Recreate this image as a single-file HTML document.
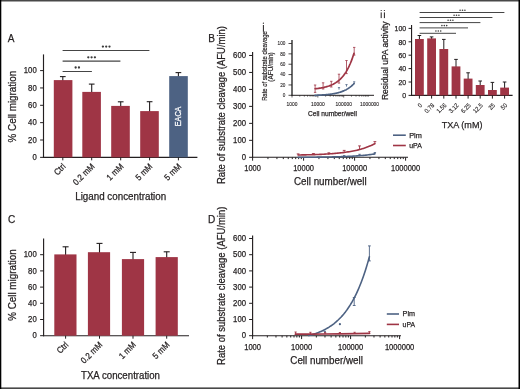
<!DOCTYPE html>
<html><head><meta charset="utf-8"><style>
html,body{margin:0;padding:0;background:#fff;}
svg{display:block;will-change:transform;}
text{font-family:"Liberation Sans",sans-serif;stroke:#231f20;stroke-width:0.25px;}
text.w{stroke:#fff;}
text.s{stroke-width:0.12px;}
text.m{stroke-width:0.2px;}
</style></head><body>
<svg width="520" height="389" viewBox="0 0 520 389">
<rect width="520" height="389" fill="#fff"/>
<text x="7.80" y="42.40" font-size="11.2" text-anchor="start" fill="#231f20" textLength="6.72" lengthAdjust="spacingAndGlyphs" >A</text>
<line x1="43.50" y1="54.40" x2="43.50" y2="157.90" stroke="#231f20" stroke-width="1.15"/>
<line x1="43.00" y1="157.35" x2="197.40" y2="157.35" stroke="#231f20" stroke-width="1.1"/>
<line x1="40.10" y1="157.35" x2="43.50" y2="157.35" stroke="#231f20" stroke-width="1.0"/>
<text x="36.70" y="159.95" font-size="8.4" text-anchor="end" fill="#231f20" textLength="4.3" lengthAdjust="spacingAndGlyphs" >0</text>
<line x1="40.10" y1="140.00" x2="43.50" y2="140.00" stroke="#231f20" stroke-width="1.0"/>
<text x="36.70" y="142.60" font-size="8.4" text-anchor="end" fill="#231f20" textLength="8.6" lengthAdjust="spacingAndGlyphs" >20</text>
<line x1="40.10" y1="122.65" x2="43.50" y2="122.65" stroke="#231f20" stroke-width="1.0"/>
<text x="36.70" y="125.25" font-size="8.4" text-anchor="end" fill="#231f20" textLength="8.6" lengthAdjust="spacingAndGlyphs" >40</text>
<line x1="40.10" y1="105.30" x2="43.50" y2="105.30" stroke="#231f20" stroke-width="1.0"/>
<text x="36.70" y="107.90" font-size="8.4" text-anchor="end" fill="#231f20" textLength="8.6" lengthAdjust="spacingAndGlyphs" >60</text>
<line x1="40.10" y1="87.95" x2="43.50" y2="87.95" stroke="#231f20" stroke-width="1.0"/>
<text x="36.70" y="90.55" font-size="8.4" text-anchor="end" fill="#231f20" textLength="8.6" lengthAdjust="spacingAndGlyphs" >80</text>
<line x1="40.10" y1="70.60" x2="43.50" y2="70.60" stroke="#231f20" stroke-width="1.0"/>
<text x="36.70" y="73.20" font-size="8.4" text-anchor="end" fill="#231f20" textLength="12.89" lengthAdjust="spacingAndGlyphs" >100</text>
<line x1="62.80" y1="81.10" x2="62.80" y2="76.60" stroke="#231f20" stroke-width="1.1"/>
<line x1="59.95" y1="76.60" x2="65.65" y2="76.60" stroke="#231f20" stroke-width="1.1"/>
<rect x="53.80" y="80.10" width="18.60" height="77.25" fill="#9f3545"/>
<line x1="62.80" y1="157.35" x2="62.80" y2="160.35" stroke="#231f20" stroke-width="1.0"/>
<line x1="91.70" y1="92.90" x2="91.70" y2="84.10" stroke="#231f20" stroke-width="1.1"/>
<line x1="88.85" y1="84.10" x2="94.55" y2="84.10" stroke="#231f20" stroke-width="1.1"/>
<rect x="82.30" y="91.90" width="18.60" height="65.45" fill="#9f3545"/>
<line x1="91.70" y1="157.35" x2="91.70" y2="160.35" stroke="#231f20" stroke-width="1.0"/>
<line x1="120.70" y1="106.90" x2="120.70" y2="101.80" stroke="#231f20" stroke-width="1.1"/>
<line x1="117.85" y1="101.80" x2="123.55" y2="101.80" stroke="#231f20" stroke-width="1.1"/>
<rect x="111.20" y="105.90" width="18.60" height="51.45" fill="#9f3545"/>
<line x1="120.70" y1="157.35" x2="120.70" y2="160.35" stroke="#231f20" stroke-width="1.0"/>
<line x1="149.60" y1="112.10" x2="149.60" y2="101.70" stroke="#231f20" stroke-width="1.1"/>
<line x1="146.75" y1="101.70" x2="152.45" y2="101.70" stroke="#231f20" stroke-width="1.1"/>
<rect x="140.20" y="111.10" width="18.60" height="46.25" fill="#9f3545"/>
<line x1="149.60" y1="157.35" x2="149.60" y2="160.35" stroke="#231f20" stroke-width="1.0"/>
<line x1="178.40" y1="77.10" x2="178.40" y2="72.60" stroke="#231f20" stroke-width="1.1"/>
<line x1="175.55" y1="72.60" x2="181.25" y2="72.60" stroke="#231f20" stroke-width="1.1"/>
<rect x="169.20" y="76.10" width="18.60" height="81.25" fill="#4d6283"/>
<line x1="178.40" y1="157.35" x2="178.40" y2="160.35" stroke="#231f20" stroke-width="1.0"/>
<text x="181.20" y="116.40" font-size="8.6" text-anchor="middle" fill="#ffffff" textLength="19.6" lengthAdjust="spacingAndGlyphs" transform="rotate(-90 181.20 116.40)" class="w">EACA</text>
<line x1="62.60" y1="50.50" x2="149.40" y2="50.50" stroke="#454545" stroke-width="1.0"/>
<circle cx="102.90" cy="46.60" r="1.15" fill="#3a3a3a"/>
<circle cx="106.20" cy="46.60" r="1.15" fill="#3a3a3a"/>
<circle cx="109.50" cy="46.60" r="1.15" fill="#3a3a3a"/>
<line x1="62.60" y1="61.10" x2="120.40" y2="61.10" stroke="#454545" stroke-width="1.2"/>
<circle cx="88.30" cy="57.30" r="1.15" fill="#3a3a3a"/>
<circle cx="91.60" cy="57.30" r="1.15" fill="#3a3a3a"/>
<circle cx="94.90" cy="57.30" r="1.15" fill="#3a3a3a"/>
<line x1="62.60" y1="71.50" x2="91.90" y2="71.50" stroke="#454545" stroke-width="1.0"/>
<circle cx="75.65" cy="67.50" r="1.15" fill="#3a3a3a"/>
<circle cx="78.95" cy="67.50" r="1.15" fill="#3a3a3a"/>
<text x="66.20" y="167.00" font-size="8.8" text-anchor="end" fill="#231f20" textLength="12.32" lengthAdjust="spacingAndGlyphs" transform="rotate(-45 66.20 167.00)" >Ctrl</text>
<text x="95.10" y="167.00" font-size="8.8" text-anchor="end" fill="#231f20" textLength="26.41" lengthAdjust="spacingAndGlyphs" transform="rotate(-45 95.10 167.00)" >0.2 mM</text>
<text x="124.10" y="167.00" font-size="8.8" text-anchor="end" fill="#231f20" textLength="19.8" lengthAdjust="spacingAndGlyphs" transform="rotate(-45 124.10 167.00)" >1 mM</text>
<text x="153.00" y="167.00" font-size="8.8" text-anchor="end" fill="#231f20" textLength="19.8" lengthAdjust="spacingAndGlyphs" transform="rotate(-45 153.00 167.00)" >5 mM</text>
<text x="181.80" y="167.00" font-size="8.8" text-anchor="end" fill="#231f20" textLength="19.8" lengthAdjust="spacingAndGlyphs" transform="rotate(-45 181.80 167.00)" >5 mM</text>
<text x="120.70" y="200.30" font-size="10" text-anchor="middle" fill="#231f20" textLength="91.0" lengthAdjust="spacingAndGlyphs" >Ligand concentration</text>
<text x="16.30" y="106.60" font-size="10.4" text-anchor="middle" fill="#231f20" textLength="71.6" lengthAdjust="spacingAndGlyphs" transform="rotate(-90 16.30 106.60)" >% Cell migration</text>
<text x="208.20" y="42.40" font-size="11.2" text-anchor="start" fill="#231f20" textLength="6.72" lengthAdjust="spacingAndGlyphs" >B</text>
<line x1="252.60" y1="52.00" x2="252.60" y2="157.85" stroke="#231f20" stroke-width="1.15"/>
<line x1="252.10" y1="157.30" x2="408.00" y2="157.30" stroke="#231f20" stroke-width="1.1"/>
<line x1="249.10" y1="157.30" x2="252.60" y2="157.30" stroke="#231f20" stroke-width="1.0"/>
<text x="246.00" y="159.90" font-size="8.4" text-anchor="end" fill="#231f20" textLength="4.3" lengthAdjust="spacingAndGlyphs" >0</text>
<line x1="249.10" y1="140.33" x2="252.60" y2="140.33" stroke="#231f20" stroke-width="1.0"/>
<text x="246.00" y="142.93" font-size="8.4" text-anchor="end" fill="#231f20" textLength="12.89" lengthAdjust="spacingAndGlyphs" >100</text>
<line x1="249.10" y1="123.36" x2="252.60" y2="123.36" stroke="#231f20" stroke-width="1.0"/>
<text x="246.00" y="125.96" font-size="8.4" text-anchor="end" fill="#231f20" textLength="12.89" lengthAdjust="spacingAndGlyphs" >200</text>
<line x1="249.10" y1="106.39" x2="252.60" y2="106.39" stroke="#231f20" stroke-width="1.0"/>
<text x="246.00" y="108.99" font-size="8.4" text-anchor="end" fill="#231f20" textLength="12.89" lengthAdjust="spacingAndGlyphs" >300</text>
<line x1="249.10" y1="89.42" x2="252.60" y2="89.42" stroke="#231f20" stroke-width="1.0"/>
<text x="246.00" y="92.02" font-size="8.4" text-anchor="end" fill="#231f20" textLength="12.89" lengthAdjust="spacingAndGlyphs" >400</text>
<line x1="249.10" y1="72.45" x2="252.60" y2="72.45" stroke="#231f20" stroke-width="1.0"/>
<text x="246.00" y="75.05" font-size="8.4" text-anchor="end" fill="#231f20" textLength="12.89" lengthAdjust="spacingAndGlyphs" >500</text>
<line x1="249.10" y1="55.48" x2="252.60" y2="55.48" stroke="#231f20" stroke-width="1.0"/>
<text x="246.00" y="58.08" font-size="8.4" text-anchor="end" fill="#231f20" textLength="12.89" lengthAdjust="spacingAndGlyphs" >600</text>
<line x1="252.60" y1="157.30" x2="252.60" y2="160.70" stroke="#231f20" stroke-width="1.0"/>
<line x1="267.95" y1="157.30" x2="267.95" y2="159.10" stroke="#231f20" stroke-width="1.0"/>
<line x1="276.93" y1="157.30" x2="276.93" y2="159.10" stroke="#231f20" stroke-width="1.0"/>
<line x1="283.31" y1="157.30" x2="283.31" y2="159.10" stroke="#231f20" stroke-width="1.0"/>
<line x1="288.25" y1="157.30" x2="288.25" y2="159.10" stroke="#231f20" stroke-width="1.0"/>
<line x1="292.29" y1="157.30" x2="292.29" y2="159.10" stroke="#231f20" stroke-width="1.0"/>
<line x1="295.70" y1="157.30" x2="295.70" y2="159.10" stroke="#231f20" stroke-width="1.0"/>
<line x1="298.66" y1="157.30" x2="298.66" y2="159.10" stroke="#231f20" stroke-width="1.0"/>
<line x1="301.27" y1="157.30" x2="301.27" y2="159.10" stroke="#231f20" stroke-width="1.0"/>
<line x1="303.60" y1="157.30" x2="303.60" y2="160.70" stroke="#231f20" stroke-width="1.0"/>
<line x1="318.95" y1="157.30" x2="318.95" y2="159.10" stroke="#231f20" stroke-width="1.0"/>
<line x1="327.93" y1="157.30" x2="327.93" y2="159.10" stroke="#231f20" stroke-width="1.0"/>
<line x1="334.31" y1="157.30" x2="334.31" y2="159.10" stroke="#231f20" stroke-width="1.0"/>
<line x1="339.25" y1="157.30" x2="339.25" y2="159.10" stroke="#231f20" stroke-width="1.0"/>
<line x1="343.29" y1="157.30" x2="343.29" y2="159.10" stroke="#231f20" stroke-width="1.0"/>
<line x1="346.70" y1="157.30" x2="346.70" y2="159.10" stroke="#231f20" stroke-width="1.0"/>
<line x1="349.66" y1="157.30" x2="349.66" y2="159.10" stroke="#231f20" stroke-width="1.0"/>
<line x1="352.27" y1="157.30" x2="352.27" y2="159.10" stroke="#231f20" stroke-width="1.0"/>
<line x1="354.60" y1="157.30" x2="354.60" y2="160.70" stroke="#231f20" stroke-width="1.0"/>
<line x1="369.95" y1="157.30" x2="369.95" y2="159.10" stroke="#231f20" stroke-width="1.0"/>
<line x1="378.93" y1="157.30" x2="378.93" y2="159.10" stroke="#231f20" stroke-width="1.0"/>
<line x1="385.31" y1="157.30" x2="385.31" y2="159.10" stroke="#231f20" stroke-width="1.0"/>
<line x1="390.25" y1="157.30" x2="390.25" y2="159.10" stroke="#231f20" stroke-width="1.0"/>
<line x1="394.29" y1="157.30" x2="394.29" y2="159.10" stroke="#231f20" stroke-width="1.0"/>
<line x1="397.70" y1="157.30" x2="397.70" y2="159.10" stroke="#231f20" stroke-width="1.0"/>
<line x1="400.66" y1="157.30" x2="400.66" y2="159.10" stroke="#231f20" stroke-width="1.0"/>
<line x1="403.27" y1="157.30" x2="403.27" y2="159.10" stroke="#231f20" stroke-width="1.0"/>
<line x1="405.60" y1="157.30" x2="405.60" y2="160.70" stroke="#231f20" stroke-width="1.0"/>
<text x="252.60" y="171.20" font-size="8.4" text-anchor="middle" fill="#231f20" textLength="16.63" lengthAdjust="spacingAndGlyphs" >1000</text>
<text x="303.60" y="171.20" font-size="8.4" text-anchor="middle" fill="#231f20" textLength="20.79" lengthAdjust="spacingAndGlyphs" >10000</text>
<text x="354.60" y="171.20" font-size="8.4" text-anchor="middle" fill="#231f20" textLength="24.95" lengthAdjust="spacingAndGlyphs" >100000</text>
<text x="405.60" y="171.20" font-size="8.4" text-anchor="middle" fill="#231f20" textLength="29.11" lengthAdjust="spacingAndGlyphs" >1000000</text>
<text x="330.30" y="185.20" font-size="10" text-anchor="middle" fill="#231f20" textLength="72.6" lengthAdjust="spacingAndGlyphs" >Cell number/well</text>
<text x="225.40" y="105.10" font-size="10.2" text-anchor="middle" fill="#231f20" textLength="158.0" lengthAdjust="spacingAndGlyphs" transform="rotate(-90 225.40 105.10)" >Rate of substrate cleavage (AFU/min)</text>
<path d="M298.13,154.99 L299.41,154.97 L300.69,154.95 L301.97,154.92 L303.25,154.90 L304.53,154.87 L305.81,154.84 L307.09,154.81 L308.37,154.78 L309.65,154.74 L310.93,154.71 L312.21,154.67 L313.48,154.63 L314.76,154.58 L316.04,154.54 L317.32,154.49 L318.60,154.44 L319.88,154.38 L321.16,154.33 L322.44,154.26 L323.72,154.20 L325.00,154.13 L326.28,154.06 L327.56,153.98 L328.84,153.90 L330.12,153.81 L331.40,153.72 L332.68,153.62 L333.95,153.52 L335.23,153.41 L336.51,153.29 L337.79,153.17 L339.07,153.04 L340.35,152.90 L341.63,152.76 L342.91,152.60 L344.19,152.44 L345.47,152.27 L346.75,152.08 L348.03,151.89 L349.31,151.68 L350.59,151.46 L351.87,151.23 L353.15,150.99 L354.42,150.73 L355.70,150.45 L356.98,150.16 L358.26,149.85 L359.54,149.52 L360.82,149.18 L362.10,148.81 L363.38,148.42 L364.66,148.01 L365.94,147.57 L367.22,147.11 L368.50,146.62 L369.78,146.10 L371.06,145.55 L372.34,144.96 L373.62,144.34 L374.89,143.69" stroke="#9f3545" stroke-width="1.6" fill="none" stroke-linecap="round" />
<path d="M298.13,157.30 L299.41,157.30 L300.69,157.30 L301.97,157.30 L303.25,157.29 L304.53,157.28 L305.81,157.27 L307.09,157.26 L308.37,157.25 L309.65,157.24 L310.93,157.23 L312.21,157.22 L313.48,157.21 L314.76,157.19 L316.04,157.18 L317.32,157.17 L318.60,157.15 L319.88,157.13 L321.16,157.12 L322.44,157.10 L323.72,157.08 L325.00,157.06 L326.28,157.03 L327.56,157.01 L328.84,156.99 L330.12,156.96 L331.40,156.93 L332.68,156.90 L333.95,156.87 L335.23,156.84 L336.51,156.80 L337.79,156.77 L339.07,156.73 L340.35,156.69 L341.63,156.64 L342.91,156.60 L344.19,156.55 L345.47,156.49 L346.75,156.44 L348.03,156.38 L349.31,156.32 L350.59,156.25 L351.87,156.18 L353.15,156.11 L354.42,156.03 L355.70,155.95 L356.98,155.86 L358.26,155.76 L359.54,155.67 L360.82,155.56 L362.10,155.45 L363.38,155.33 L364.66,155.21 L365.94,155.08 L367.22,154.94 L368.50,154.79 L369.78,154.63 L371.06,154.47 L372.34,154.29 L373.62,154.10 L374.89,153.91" stroke="#4d6283" stroke-width="1.6" fill="none" stroke-linecap="round" />
<line x1="298.13" y1="153.90" x2="298.13" y2="155.30" stroke="#9f3545" stroke-width="0.9"/>
<line x1="296.73" y1="153.90" x2="299.53" y2="153.90" stroke="#9f3545" stroke-width="0.9"/>
<line x1="313.48" y1="153.50" x2="313.48" y2="154.90" stroke="#9f3545" stroke-width="0.9"/>
<line x1="312.08" y1="153.50" x2="314.88" y2="153.50" stroke="#9f3545" stroke-width="0.9"/>
<line x1="328.84" y1="152.80" x2="328.84" y2="154.60" stroke="#9f3545" stroke-width="0.9"/>
<line x1="327.44" y1="152.80" x2="330.24" y2="152.80" stroke="#9f3545" stroke-width="0.9"/>
<line x1="344.19" y1="150.40" x2="344.19" y2="152.60" stroke="#9f3545" stroke-width="0.9"/>
<line x1="342.79" y1="150.40" x2="345.59" y2="150.40" stroke="#9f3545" stroke-width="0.9"/>
<line x1="359.54" y1="145.90" x2="359.54" y2="150.00" stroke="#9f3545" stroke-width="0.9"/>
<line x1="358.14" y1="145.90" x2="360.94" y2="145.90" stroke="#9f3545" stroke-width="0.9"/>
<line x1="374.89" y1="141.60" x2="374.89" y2="143.60" stroke="#9f3545" stroke-width="0.9"/>
<line x1="373.49" y1="141.60" x2="376.29" y2="141.60" stroke="#9f3545" stroke-width="0.9"/>
<line x1="344.19" y1="155.60" x2="344.19" y2="156.60" stroke="#4d6283" stroke-width="0.9"/>
<line x1="342.99" y1="155.60" x2="345.39" y2="155.60" stroke="#4d6283" stroke-width="0.9"/>
<line x1="359.54" y1="154.30" x2="359.54" y2="155.40" stroke="#4d6283" stroke-width="0.9"/>
<line x1="358.34" y1="154.30" x2="360.74" y2="154.30" stroke="#4d6283" stroke-width="0.9"/>
<line x1="374.89" y1="152.60" x2="374.89" y2="154.00" stroke="#4d6283" stroke-width="0.9"/>
<line x1="373.69" y1="152.60" x2="376.09" y2="152.60" stroke="#4d6283" stroke-width="0.9"/>
<line x1="393.00" y1="135.20" x2="405.80" y2="135.20" stroke="#4d6283" stroke-width="1.6"/>
<text x="409.20" y="137.50" font-size="7.4" text-anchor="start" fill="#231f20" textLength="12.6" lengthAdjust="spacingAndGlyphs" >Plm</text>
<line x1="393.00" y1="145.50" x2="405.80" y2="145.50" stroke="#9f3545" stroke-width="1.6"/>
<text x="409.20" y="147.60" font-size="7.4" text-anchor="start" fill="#231f20" textLength="12.6" lengthAdjust="spacingAndGlyphs" >uPA</text>
<line x1="263.40" y1="25.00" x2="263.40" y2="31.80" stroke="#231f20" stroke-width="1.0"/>
<circle cx="263.4" cy="23.2" r="0.62" fill="#231f20"/>
<line x1="292.00" y1="40.10" x2="292.00" y2="95.80" stroke="#3a3a3a" stroke-width="1.5"/>
<line x1="291.60" y1="95.30" x2="374.00" y2="95.30" stroke="#231f20" stroke-width="1.0"/>
<line x1="288.50" y1="95.30" x2="292.00" y2="95.30" stroke="#231f20" stroke-width="0.8"/>
<text x="285.40" y="97.20" font-size="5.5" text-anchor="end" fill="#231f20" textLength="2.6" lengthAdjust="spacingAndGlyphs"  class="s">0</text>
<line x1="288.50" y1="84.94" x2="292.00" y2="84.94" stroke="#231f20" stroke-width="0.8"/>
<text x="285.40" y="86.84" font-size="5.5" text-anchor="end" fill="#231f20" textLength="5.2" lengthAdjust="spacingAndGlyphs"  class="s">20</text>
<line x1="288.50" y1="74.58" x2="292.00" y2="74.58" stroke="#231f20" stroke-width="0.8"/>
<text x="285.40" y="76.48" font-size="5.5" text-anchor="end" fill="#231f20" textLength="5.2" lengthAdjust="spacingAndGlyphs"  class="s">40</text>
<line x1="288.50" y1="64.22" x2="292.00" y2="64.22" stroke="#231f20" stroke-width="0.8"/>
<text x="285.40" y="66.12" font-size="5.5" text-anchor="end" fill="#231f20" textLength="5.2" lengthAdjust="spacingAndGlyphs"  class="s">60</text>
<line x1="288.50" y1="53.86" x2="292.00" y2="53.86" stroke="#231f20" stroke-width="0.8"/>
<text x="285.40" y="55.76" font-size="5.5" text-anchor="end" fill="#231f20" textLength="5.2" lengthAdjust="spacingAndGlyphs"  class="s">80</text>
<line x1="288.50" y1="43.50" x2="292.00" y2="43.50" stroke="#231f20" stroke-width="0.8"/>
<text x="285.40" y="45.40" font-size="5.5" text-anchor="end" fill="#231f20" textLength="7.8" lengthAdjust="spacingAndGlyphs"  class="s">100</text>
<line x1="292.00" y1="95.30" x2="292.00" y2="97.50" stroke="#231f20" stroke-width="0.7"/>
<line x1="299.78" y1="95.30" x2="299.78" y2="96.60" stroke="#231f20" stroke-width="0.7"/>
<line x1="304.33" y1="95.30" x2="304.33" y2="96.60" stroke="#231f20" stroke-width="0.7"/>
<line x1="307.56" y1="95.30" x2="307.56" y2="96.60" stroke="#231f20" stroke-width="0.7"/>
<line x1="310.07" y1="95.30" x2="310.07" y2="96.60" stroke="#231f20" stroke-width="0.7"/>
<line x1="312.12" y1="95.30" x2="312.12" y2="96.60" stroke="#231f20" stroke-width="0.7"/>
<line x1="313.85" y1="95.30" x2="313.85" y2="96.60" stroke="#231f20" stroke-width="0.7"/>
<line x1="315.34" y1="95.30" x2="315.34" y2="96.60" stroke="#231f20" stroke-width="0.7"/>
<line x1="316.67" y1="95.30" x2="316.67" y2="96.60" stroke="#231f20" stroke-width="0.7"/>
<line x1="317.85" y1="95.30" x2="317.85" y2="97.50" stroke="#231f20" stroke-width="0.7"/>
<line x1="325.63" y1="95.30" x2="325.63" y2="96.60" stroke="#231f20" stroke-width="0.7"/>
<line x1="330.18" y1="95.30" x2="330.18" y2="96.60" stroke="#231f20" stroke-width="0.7"/>
<line x1="333.41" y1="95.30" x2="333.41" y2="96.60" stroke="#231f20" stroke-width="0.7"/>
<line x1="335.92" y1="95.30" x2="335.92" y2="96.60" stroke="#231f20" stroke-width="0.7"/>
<line x1="337.97" y1="95.30" x2="337.97" y2="96.60" stroke="#231f20" stroke-width="0.7"/>
<line x1="339.70" y1="95.30" x2="339.70" y2="96.60" stroke="#231f20" stroke-width="0.7"/>
<line x1="341.19" y1="95.30" x2="341.19" y2="96.60" stroke="#231f20" stroke-width="0.7"/>
<line x1="342.52" y1="95.30" x2="342.52" y2="96.60" stroke="#231f20" stroke-width="0.7"/>
<line x1="343.70" y1="95.30" x2="343.70" y2="97.50" stroke="#231f20" stroke-width="0.7"/>
<line x1="351.48" y1="95.30" x2="351.48" y2="96.60" stroke="#231f20" stroke-width="0.7"/>
<line x1="356.03" y1="95.30" x2="356.03" y2="96.60" stroke="#231f20" stroke-width="0.7"/>
<line x1="359.26" y1="95.30" x2="359.26" y2="96.60" stroke="#231f20" stroke-width="0.7"/>
<line x1="361.77" y1="95.30" x2="361.77" y2="96.60" stroke="#231f20" stroke-width="0.7"/>
<line x1="363.82" y1="95.30" x2="363.82" y2="96.60" stroke="#231f20" stroke-width="0.7"/>
<line x1="365.55" y1="95.30" x2="365.55" y2="96.60" stroke="#231f20" stroke-width="0.7"/>
<line x1="367.04" y1="95.30" x2="367.04" y2="96.60" stroke="#231f20" stroke-width="0.7"/>
<line x1="368.37" y1="95.30" x2="368.37" y2="96.60" stroke="#231f20" stroke-width="0.7"/>
<text x="292.00" y="106.30" font-size="5.5" text-anchor="middle" fill="#231f20" textLength="10.89" lengthAdjust="spacingAndGlyphs"  class="s">1000</text>
<text x="317.85" y="106.30" font-size="5.5" text-anchor="middle" fill="#231f20" textLength="13.61" lengthAdjust="spacingAndGlyphs"  class="s">10000</text>
<text x="343.70" y="106.30" font-size="5.5" text-anchor="middle" fill="#231f20" textLength="16.33" lengthAdjust="spacingAndGlyphs"  class="s">100000</text>
<text x="369.55" y="106.30" font-size="5.5" text-anchor="middle" fill="#231f20" textLength="19.06" lengthAdjust="spacingAndGlyphs"  class="s">1000000</text>
<text x="332.50" y="115.80" font-size="7" text-anchor="middle" fill="#231f20" textLength="49" lengthAdjust="spacingAndGlyphs" >Cell number/well</text>
<text x="266.80" y="66.00" font-size="6.6" text-anchor="middle" fill="#231f20" textLength="69.7" lengthAdjust="spacingAndGlyphs" transform="rotate(-90 266.80 66.00)" class="m">Rate of substrate cleavage</text>
<text x="273.00" y="67.00" font-size="6.6" text-anchor="middle" fill="#231f20" textLength="29.3" lengthAdjust="spacingAndGlyphs" transform="rotate(-90 273.00 67.00)" class="m">(AFU/min)</text>
<line x1="315.10" y1="85.00" x2="315.10" y2="92.40" stroke="#9f3545" stroke-width="0.8"/>
<line x1="313.90" y1="85.00" x2="316.30" y2="85.00" stroke="#9f3545" stroke-width="0.8"/>
<line x1="313.90" y1="92.40" x2="316.30" y2="92.40" stroke="#9f3545" stroke-width="0.8"/>
<line x1="323.10" y1="82.80" x2="323.10" y2="89.00" stroke="#9f3545" stroke-width="0.8"/>
<line x1="321.90" y1="82.80" x2="324.30" y2="82.80" stroke="#9f3545" stroke-width="0.8"/>
<line x1="321.90" y1="89.00" x2="324.30" y2="89.00" stroke="#9f3545" stroke-width="0.8"/>
<line x1="331.30" y1="81.30" x2="331.30" y2="87.00" stroke="#9f3545" stroke-width="0.8"/>
<line x1="330.10" y1="81.30" x2="332.50" y2="81.30" stroke="#9f3545" stroke-width="0.8"/>
<line x1="330.10" y1="87.00" x2="332.50" y2="87.00" stroke="#9f3545" stroke-width="0.8"/>
<line x1="339.00" y1="74.20" x2="339.00" y2="83.10" stroke="#9f3545" stroke-width="0.8"/>
<line x1="337.80" y1="74.20" x2="340.20" y2="74.20" stroke="#9f3545" stroke-width="0.8"/>
<line x1="337.80" y1="83.10" x2="340.20" y2="83.10" stroke="#9f3545" stroke-width="0.8"/>
<line x1="346.50" y1="60.50" x2="346.50" y2="73.60" stroke="#9f3545" stroke-width="0.8"/>
<line x1="345.30" y1="60.50" x2="347.70" y2="60.50" stroke="#9f3545" stroke-width="0.8"/>
<line x1="345.30" y1="73.60" x2="347.70" y2="73.60" stroke="#9f3545" stroke-width="0.8"/>
<line x1="354.20" y1="47.40" x2="354.20" y2="55.10" stroke="#9f3545" stroke-width="0.8"/>
<line x1="353.00" y1="47.40" x2="355.40" y2="47.40" stroke="#9f3545" stroke-width="0.8"/>
<line x1="353.00" y1="55.10" x2="355.40" y2="55.10" stroke="#9f3545" stroke-width="0.8"/>
<path d="M315.08,88.77 L315.73,88.71 L316.38,88.63 L317.02,88.56 L317.67,88.48 L318.32,88.39 L318.97,88.30 L319.62,88.20 L320.27,88.10 L320.91,87.99 L321.56,87.88 L322.21,87.76 L322.86,87.63 L323.51,87.49 L324.16,87.35 L324.81,87.19 L325.45,87.03 L326.10,86.86 L326.75,86.68 L327.40,86.49 L328.05,86.28 L328.70,86.07 L329.34,85.84 L329.99,85.59 L330.64,85.34 L331.29,85.06 L331.94,84.78 L332.59,84.47 L333.24,84.15 L333.88,83.80 L334.53,83.44 L335.18,83.05 L335.83,82.65 L336.48,82.21 L337.13,81.76 L337.78,81.27 L338.42,80.76 L339.07,80.21 L339.72,79.63 L340.37,79.02 L341.02,78.37 L341.67,77.69 L342.31,76.96 L342.96,76.19 L343.61,75.37 L344.26,74.51 L344.91,73.59 L345.56,72.62 L346.21,71.59 L346.85,70.50 L347.50,69.35 L348.15,68.13 L348.80,66.83 L349.45,65.46 L350.10,64.00 L350.74,62.46 L351.39,60.83 L352.04,59.10 L352.69,57.27 L353.34,55.33 L353.99,53.27" stroke="#9f3545" stroke-width="1.7" fill="none" stroke-linecap="round" />
<path d="M315.08,95.30 L315.73,95.29 L316.38,95.26 L317.02,95.24 L317.67,95.21 L318.32,95.18 L318.97,95.15 L319.62,95.12 L320.27,95.09 L320.91,95.05 L321.56,95.01 L322.21,94.97 L322.86,94.93 L323.51,94.89 L324.16,94.84 L324.81,94.79 L325.45,94.73 L326.10,94.68 L326.75,94.62 L327.40,94.55 L328.05,94.49 L328.70,94.41 L329.34,94.34 L329.99,94.26 L330.64,94.17 L331.29,94.08 L331.94,93.99 L332.59,93.89 L333.24,93.78 L333.88,93.67 L334.53,93.55 L335.18,93.42 L335.83,93.28 L336.48,93.14 L337.13,92.99 L337.78,92.83 L338.42,92.66 L339.07,92.48 L339.72,92.29 L340.37,92.09 L341.02,91.87 L341.67,91.65 L342.31,91.41 L342.96,91.15 L343.61,90.88 L344.26,90.60 L344.91,90.29 L345.56,89.97 L346.21,89.63 L346.85,89.27 L347.50,88.89 L348.15,88.49 L348.80,88.06 L349.45,87.61 L350.10,87.13 L350.74,86.62 L351.39,86.08 L352.04,85.51 L352.69,84.90 L353.34,84.26 L353.99,83.58" stroke="#4d6283" stroke-width="1.7" fill="none" stroke-linecap="round" />
<line x1="339.00" y1="87.60" x2="339.00" y2="89.60" stroke="#4d6283" stroke-width="0.8"/>
<line x1="337.90" y1="87.60" x2="340.10" y2="87.60" stroke="#4d6283" stroke-width="0.8"/>
<line x1="346.50" y1="84.60" x2="346.50" y2="86.60" stroke="#4d6283" stroke-width="0.8"/>
<line x1="345.40" y1="84.60" x2="347.60" y2="84.60" stroke="#4d6283" stroke-width="0.8"/>
<line x1="354.20" y1="81.80" x2="354.20" y2="84.20" stroke="#4d6283" stroke-width="0.8"/>
<line x1="353.10" y1="81.80" x2="355.30" y2="81.80" stroke="#4d6283" stroke-width="0.8"/>
<line x1="381.20" y1="12.40" x2="381.20" y2="18.10" stroke="#231f20" stroke-width="1.0"/>
<circle cx="381.2" cy="10.5" r="0.62" fill="#231f20"/>
<line x1="384.40" y1="12.40" x2="384.40" y2="18.10" stroke="#231f20" stroke-width="1.0"/>
<circle cx="384.4" cy="10.5" r="0.62" fill="#231f20"/>
<line x1="411.55" y1="25.00" x2="411.55" y2="95.95" stroke="#231f20" stroke-width="1.15"/>
<line x1="411.05" y1="95.40" x2="512.60" y2="95.40" stroke="#231f20" stroke-width="1.1"/>
<line x1="408.55" y1="95.40" x2="411.55" y2="95.40" stroke="#231f20" stroke-width="1.0"/>
<text x="406.20" y="98.20" font-size="7.8" text-anchor="end" fill="#231f20" textLength="3.86" lengthAdjust="spacingAndGlyphs" >0</text>
<line x1="408.55" y1="82.00" x2="411.55" y2="82.00" stroke="#231f20" stroke-width="1.0"/>
<text x="406.20" y="84.80" font-size="7.8" text-anchor="end" fill="#231f20" textLength="7.72" lengthAdjust="spacingAndGlyphs" >20</text>
<line x1="408.55" y1="68.60" x2="411.55" y2="68.60" stroke="#231f20" stroke-width="1.0"/>
<text x="406.20" y="71.40" font-size="7.8" text-anchor="end" fill="#231f20" textLength="7.72" lengthAdjust="spacingAndGlyphs" >40</text>
<line x1="408.55" y1="55.20" x2="411.55" y2="55.20" stroke="#231f20" stroke-width="1.0"/>
<text x="406.20" y="58.00" font-size="7.8" text-anchor="end" fill="#231f20" textLength="7.72" lengthAdjust="spacingAndGlyphs" >60</text>
<line x1="408.55" y1="41.80" x2="411.55" y2="41.80" stroke="#231f20" stroke-width="1.0"/>
<text x="406.20" y="44.60" font-size="7.8" text-anchor="end" fill="#231f20" textLength="7.72" lengthAdjust="spacingAndGlyphs" >80</text>
<line x1="408.55" y1="28.40" x2="411.55" y2="28.40" stroke="#231f20" stroke-width="1.0"/>
<text x="406.20" y="31.20" font-size="7.8" text-anchor="end" fill="#231f20" textLength="11.58" lengthAdjust="spacingAndGlyphs" >100</text>
<line x1="419.40" y1="40.00" x2="419.40" y2="35.50" stroke="#231f20" stroke-width="1.0"/>
<line x1="417.60" y1="35.50" x2="421.20" y2="35.50" stroke="#231f20" stroke-width="1.0"/>
<rect x="415.00" y="39.00" width="8.80" height="56.40" fill="#9f3545"/>
<line x1="419.40" y1="95.40" x2="419.40" y2="98.60" stroke="#231f20" stroke-width="1.0"/>
<text x="422.50" y="105.80" font-size="6.3" text-anchor="end" fill="#231f20" textLength="3.15" lengthAdjust="spacingAndGlyphs" transform="rotate(-45 422.50 105.80)"  class="s">0</text>
<line x1="431.60" y1="39.40" x2="431.60" y2="36.90" stroke="#231f20" stroke-width="1.0"/>
<line x1="429.80" y1="36.90" x2="433.40" y2="36.90" stroke="#231f20" stroke-width="1.0"/>
<rect x="427.20" y="38.40" width="8.80" height="57.00" fill="#9f3545"/>
<line x1="431.60" y1="95.40" x2="431.60" y2="98.60" stroke="#231f20" stroke-width="1.0"/>
<text x="434.70" y="105.80" font-size="6.3" text-anchor="end" fill="#231f20" textLength="11.04" lengthAdjust="spacingAndGlyphs" transform="rotate(-45 434.70 105.80)"  class="s">0.78</text>
<line x1="443.80" y1="50.00" x2="443.80" y2="39.40" stroke="#231f20" stroke-width="1.0"/>
<line x1="442.00" y1="39.40" x2="445.60" y2="39.40" stroke="#231f20" stroke-width="1.0"/>
<rect x="439.40" y="49.00" width="8.80" height="46.40" fill="#9f3545"/>
<line x1="443.80" y1="95.40" x2="443.80" y2="98.60" stroke="#231f20" stroke-width="1.0"/>
<text x="446.90" y="105.80" font-size="6.3" text-anchor="end" fill="#231f20" textLength="11.04" lengthAdjust="spacingAndGlyphs" transform="rotate(-45 446.90 105.80)"  class="s">1.56</text>
<line x1="456.00" y1="67.40" x2="456.00" y2="59.40" stroke="#231f20" stroke-width="1.0"/>
<line x1="454.20" y1="59.40" x2="457.80" y2="59.40" stroke="#231f20" stroke-width="1.0"/>
<rect x="451.60" y="66.40" width="8.80" height="29.00" fill="#9f3545"/>
<line x1="456.00" y1="95.40" x2="456.00" y2="98.60" stroke="#231f20" stroke-width="1.0"/>
<text x="459.10" y="105.80" font-size="6.3" text-anchor="end" fill="#231f20" textLength="11.04" lengthAdjust="spacingAndGlyphs" transform="rotate(-45 459.10 105.80)"  class="s">3.12</text>
<line x1="468.10" y1="79.60" x2="468.10" y2="72.80" stroke="#231f20" stroke-width="1.0"/>
<line x1="466.30" y1="72.80" x2="469.90" y2="72.80" stroke="#231f20" stroke-width="1.0"/>
<rect x="463.70" y="78.60" width="8.80" height="16.80" fill="#9f3545"/>
<line x1="468.10" y1="95.40" x2="468.10" y2="98.60" stroke="#231f20" stroke-width="1.0"/>
<text x="471.20" y="105.80" font-size="6.3" text-anchor="end" fill="#231f20" textLength="11.04" lengthAdjust="spacingAndGlyphs" transform="rotate(-45 471.20 105.80)"  class="s">6.25</text>
<line x1="480.20" y1="86.00" x2="480.20" y2="81.00" stroke="#231f20" stroke-width="1.0"/>
<line x1="478.40" y1="81.00" x2="482.00" y2="81.00" stroke="#231f20" stroke-width="1.0"/>
<rect x="475.80" y="85.00" width="8.80" height="10.40" fill="#9f3545"/>
<line x1="480.20" y1="95.40" x2="480.20" y2="98.60" stroke="#231f20" stroke-width="1.0"/>
<text x="483.30" y="105.80" font-size="6.3" text-anchor="end" fill="#231f20" textLength="11.04" lengthAdjust="spacingAndGlyphs" transform="rotate(-45 483.30 105.80)"  class="s">12.5</text>
<line x1="492.40" y1="91.00" x2="492.40" y2="82.40" stroke="#231f20" stroke-width="1.0"/>
<line x1="490.60" y1="82.40" x2="494.20" y2="82.40" stroke="#231f20" stroke-width="1.0"/>
<rect x="488.00" y="90.00" width="8.80" height="5.40" fill="#9f3545"/>
<line x1="492.40" y1="95.40" x2="492.40" y2="98.60" stroke="#231f20" stroke-width="1.0"/>
<text x="495.50" y="105.80" font-size="6.3" text-anchor="end" fill="#231f20" textLength="6.31" lengthAdjust="spacingAndGlyphs" transform="rotate(-45 495.50 105.80)"  class="s">25</text>
<line x1="504.60" y1="88.60" x2="504.60" y2="82.00" stroke="#231f20" stroke-width="1.0"/>
<line x1="502.80" y1="82.00" x2="506.40" y2="82.00" stroke="#231f20" stroke-width="1.0"/>
<rect x="500.20" y="87.60" width="8.80" height="7.80" fill="#9f3545"/>
<line x1="504.60" y1="95.40" x2="504.60" y2="98.60" stroke="#231f20" stroke-width="1.0"/>
<text x="507.70" y="105.80" font-size="6.3" text-anchor="end" fill="#231f20" textLength="6.31" lengthAdjust="spacingAndGlyphs" transform="rotate(-45 507.70 105.80)"  class="s">50</text>
<line x1="419.60" y1="12.50" x2="504.40" y2="12.50" stroke="#454545" stroke-width="1.0"/>
<circle cx="460.10" cy="10.20" r="0.8" fill="#3a3a3a"/>
<circle cx="462.50" cy="10.20" r="0.8" fill="#3a3a3a"/>
<circle cx="464.90" cy="10.20" r="0.8" fill="#3a3a3a"/>
<line x1="419.60" y1="17.50" x2="492.40" y2="17.50" stroke="#454545" stroke-width="1.0"/>
<circle cx="454.10" cy="15.20" r="0.8" fill="#3a3a3a"/>
<circle cx="456.50" cy="15.20" r="0.8" fill="#3a3a3a"/>
<circle cx="458.90" cy="15.20" r="0.8" fill="#3a3a3a"/>
<line x1="419.60" y1="22.60" x2="480.40" y2="22.60" stroke="#454545" stroke-width="1.0"/>
<circle cx="448.10" cy="20.30" r="0.8" fill="#3a3a3a"/>
<circle cx="450.50" cy="20.30" r="0.8" fill="#3a3a3a"/>
<circle cx="452.90" cy="20.30" r="0.8" fill="#3a3a3a"/>
<line x1="419.60" y1="27.90" x2="468.00" y2="27.90" stroke="#454545" stroke-width="1.0"/>
<circle cx="441.90" cy="25.60" r="0.8" fill="#3a3a3a"/>
<circle cx="444.30" cy="25.60" r="0.8" fill="#3a3a3a"/>
<circle cx="446.70" cy="25.60" r="0.8" fill="#3a3a3a"/>
<line x1="419.60" y1="33.30" x2="456.00" y2="33.30" stroke="#454545" stroke-width="1.0"/>
<circle cx="435.90" cy="31.00" r="0.8" fill="#3a3a3a"/>
<circle cx="438.30" cy="31.00" r="0.8" fill="#3a3a3a"/>
<circle cx="440.70" cy="31.00" r="0.8" fill="#3a3a3a"/>
<text x="462.10" y="128.20" font-size="9.9" text-anchor="middle" fill="#231f20" textLength="40.7" lengthAdjust="spacingAndGlyphs" >TXA (mM)</text>
<text x="388.40" y="60.80" font-size="8.8" text-anchor="middle" fill="#231f20" textLength="78.4" lengthAdjust="spacingAndGlyphs" transform="rotate(-90 388.40 60.80)" >Residual uPA activity</text>
<text x="8.00" y="223.00" font-size="11.2" text-anchor="start" fill="#231f20" textLength="7.28" lengthAdjust="spacingAndGlyphs" >C</text>
<line x1="43.60" y1="238.40" x2="43.60" y2="336.25" stroke="#231f20" stroke-width="1.15"/>
<line x1="43.10" y1="335.70" x2="189.00" y2="335.70" stroke="#231f20" stroke-width="1.1"/>
<line x1="40.10" y1="335.70" x2="43.60" y2="335.70" stroke="#231f20" stroke-width="1.0"/>
<text x="36.70" y="338.30" font-size="8.4" text-anchor="end" fill="#231f20" textLength="4.3" lengthAdjust="spacingAndGlyphs" >0</text>
<line x1="40.10" y1="319.50" x2="43.60" y2="319.50" stroke="#231f20" stroke-width="1.0"/>
<text x="36.70" y="322.10" font-size="8.4" text-anchor="end" fill="#231f20" textLength="8.6" lengthAdjust="spacingAndGlyphs" >20</text>
<line x1="40.10" y1="303.30" x2="43.60" y2="303.30" stroke="#231f20" stroke-width="1.0"/>
<text x="36.70" y="305.90" font-size="8.4" text-anchor="end" fill="#231f20" textLength="8.6" lengthAdjust="spacingAndGlyphs" >40</text>
<line x1="40.10" y1="287.10" x2="43.60" y2="287.10" stroke="#231f20" stroke-width="1.0"/>
<text x="36.70" y="289.70" font-size="8.4" text-anchor="end" fill="#231f20" textLength="8.6" lengthAdjust="spacingAndGlyphs" >60</text>
<line x1="40.10" y1="270.90" x2="43.60" y2="270.90" stroke="#231f20" stroke-width="1.0"/>
<text x="36.70" y="273.50" font-size="8.4" text-anchor="end" fill="#231f20" textLength="8.6" lengthAdjust="spacingAndGlyphs" >80</text>
<line x1="40.10" y1="254.70" x2="43.60" y2="254.70" stroke="#231f20" stroke-width="1.0"/>
<text x="36.70" y="257.30" font-size="8.4" text-anchor="end" fill="#231f20" textLength="12.89" lengthAdjust="spacingAndGlyphs" >100</text>
<line x1="65.60" y1="255.40" x2="65.60" y2="246.80" stroke="#231f20" stroke-width="1.1"/>
<line x1="62.60" y1="246.80" x2="68.60" y2="246.80" stroke="#231f20" stroke-width="1.1"/>
<rect x="54.30" y="254.40" width="22.20" height="81.30" fill="#9f3545"/>
<line x1="65.60" y1="335.70" x2="65.60" y2="338.70" stroke="#231f20" stroke-width="1.0"/>
<text x="69.00" y="345.40" font-size="8.8" text-anchor="end" fill="#231f20" textLength="12.32" lengthAdjust="spacingAndGlyphs" transform="rotate(-45 69.00 345.40)" >Ctrl</text>
<line x1="99.50" y1="253.20" x2="99.50" y2="243.40" stroke="#231f20" stroke-width="1.1"/>
<line x1="96.50" y1="243.40" x2="102.50" y2="243.40" stroke="#231f20" stroke-width="1.1"/>
<rect x="87.90" y="252.20" width="22.20" height="83.50" fill="#9f3545"/>
<line x1="99.50" y1="335.70" x2="99.50" y2="338.70" stroke="#231f20" stroke-width="1.0"/>
<text x="102.90" y="345.40" font-size="8.8" text-anchor="end" fill="#231f20" textLength="26.41" lengthAdjust="spacingAndGlyphs" transform="rotate(-45 102.90 345.40)" >0.2 mM</text>
<line x1="133.00" y1="260.10" x2="133.00" y2="252.40" stroke="#231f20" stroke-width="1.1"/>
<line x1="130.00" y1="252.40" x2="136.00" y2="252.40" stroke="#231f20" stroke-width="1.1"/>
<rect x="121.90" y="259.10" width="22.20" height="76.60" fill="#9f3545"/>
<line x1="133.00" y1="335.70" x2="133.00" y2="338.70" stroke="#231f20" stroke-width="1.0"/>
<text x="136.40" y="345.40" font-size="8.8" text-anchor="end" fill="#231f20" textLength="19.8" lengthAdjust="spacingAndGlyphs" transform="rotate(-45 136.40 345.40)" >1 mM</text>
<line x1="166.70" y1="258.10" x2="166.70" y2="251.80" stroke="#231f20" stroke-width="1.1"/>
<line x1="163.70" y1="251.80" x2="169.70" y2="251.80" stroke="#231f20" stroke-width="1.1"/>
<rect x="155.60" y="257.10" width="22.20" height="78.60" fill="#9f3545"/>
<line x1="166.70" y1="335.70" x2="166.70" y2="338.70" stroke="#231f20" stroke-width="1.0"/>
<text x="170.10" y="345.40" font-size="8.8" text-anchor="end" fill="#231f20" textLength="19.8" lengthAdjust="spacingAndGlyphs" transform="rotate(-45 170.10 345.40)" >5 mM</text>
<text x="120.50" y="379.10" font-size="10" text-anchor="middle" fill="#231f20" textLength="79" lengthAdjust="spacingAndGlyphs" >TXA concentration</text>
<text x="16.30" y="285.00" font-size="10.4" text-anchor="middle" fill="#231f20" textLength="71.4" lengthAdjust="spacingAndGlyphs" transform="rotate(-90 16.30 285.00)" >% Cell migration</text>
<text x="208.00" y="222.60" font-size="11.2" text-anchor="start" fill="#231f20" textLength="7.28" lengthAdjust="spacingAndGlyphs" >D</text>
<line x1="252.60" y1="235.60" x2="252.60" y2="336.25" stroke="#231f20" stroke-width="1.15"/>
<line x1="252.10" y1="335.70" x2="401.00" y2="335.70" stroke="#231f20" stroke-width="1.1"/>
<line x1="249.10" y1="335.70" x2="252.60" y2="335.70" stroke="#231f20" stroke-width="1.0"/>
<text x="246.00" y="338.30" font-size="8.4" text-anchor="end" fill="#231f20" textLength="4.3" lengthAdjust="spacingAndGlyphs" >0</text>
<line x1="249.10" y1="319.50" x2="252.60" y2="319.50" stroke="#231f20" stroke-width="1.0"/>
<text x="246.00" y="322.10" font-size="8.4" text-anchor="end" fill="#231f20" textLength="12.89" lengthAdjust="spacingAndGlyphs" >100</text>
<line x1="249.10" y1="303.30" x2="252.60" y2="303.30" stroke="#231f20" stroke-width="1.0"/>
<text x="246.00" y="305.90" font-size="8.4" text-anchor="end" fill="#231f20" textLength="12.89" lengthAdjust="spacingAndGlyphs" >200</text>
<line x1="249.10" y1="287.10" x2="252.60" y2="287.10" stroke="#231f20" stroke-width="1.0"/>
<text x="246.00" y="289.70" font-size="8.4" text-anchor="end" fill="#231f20" textLength="12.89" lengthAdjust="spacingAndGlyphs" >300</text>
<line x1="249.10" y1="270.90" x2="252.60" y2="270.90" stroke="#231f20" stroke-width="1.0"/>
<text x="246.00" y="273.50" font-size="8.4" text-anchor="end" fill="#231f20" textLength="12.89" lengthAdjust="spacingAndGlyphs" >400</text>
<line x1="249.10" y1="254.70" x2="252.60" y2="254.70" stroke="#231f20" stroke-width="1.0"/>
<text x="246.00" y="257.30" font-size="8.4" text-anchor="end" fill="#231f20" textLength="12.89" lengthAdjust="spacingAndGlyphs" >500</text>
<line x1="249.10" y1="238.50" x2="252.60" y2="238.50" stroke="#231f20" stroke-width="1.0"/>
<text x="246.00" y="241.10" font-size="8.4" text-anchor="end" fill="#231f20" textLength="12.89" lengthAdjust="spacingAndGlyphs" >600</text>
<line x1="252.60" y1="335.70" x2="252.60" y2="339.10" stroke="#231f20" stroke-width="1.0"/>
<line x1="267.35" y1="335.70" x2="267.35" y2="337.50" stroke="#231f20" stroke-width="1.0"/>
<line x1="275.98" y1="335.70" x2="275.98" y2="337.50" stroke="#231f20" stroke-width="1.0"/>
<line x1="282.10" y1="335.70" x2="282.10" y2="337.50" stroke="#231f20" stroke-width="1.0"/>
<line x1="286.85" y1="335.70" x2="286.85" y2="337.50" stroke="#231f20" stroke-width="1.0"/>
<line x1="290.73" y1="335.70" x2="290.73" y2="337.50" stroke="#231f20" stroke-width="1.0"/>
<line x1="294.01" y1="335.70" x2="294.01" y2="337.50" stroke="#231f20" stroke-width="1.0"/>
<line x1="296.85" y1="335.70" x2="296.85" y2="337.50" stroke="#231f20" stroke-width="1.0"/>
<line x1="299.36" y1="335.70" x2="299.36" y2="337.50" stroke="#231f20" stroke-width="1.0"/>
<line x1="301.60" y1="335.70" x2="301.60" y2="339.10" stroke="#231f20" stroke-width="1.0"/>
<line x1="316.35" y1="335.70" x2="316.35" y2="337.50" stroke="#231f20" stroke-width="1.0"/>
<line x1="324.98" y1="335.70" x2="324.98" y2="337.50" stroke="#231f20" stroke-width="1.0"/>
<line x1="331.10" y1="335.70" x2="331.10" y2="337.50" stroke="#231f20" stroke-width="1.0"/>
<line x1="335.85" y1="335.70" x2="335.85" y2="337.50" stroke="#231f20" stroke-width="1.0"/>
<line x1="339.73" y1="335.70" x2="339.73" y2="337.50" stroke="#231f20" stroke-width="1.0"/>
<line x1="343.01" y1="335.70" x2="343.01" y2="337.50" stroke="#231f20" stroke-width="1.0"/>
<line x1="345.85" y1="335.70" x2="345.85" y2="337.50" stroke="#231f20" stroke-width="1.0"/>
<line x1="348.36" y1="335.70" x2="348.36" y2="337.50" stroke="#231f20" stroke-width="1.0"/>
<line x1="350.60" y1="335.70" x2="350.60" y2="339.10" stroke="#231f20" stroke-width="1.0"/>
<line x1="365.35" y1="335.70" x2="365.35" y2="337.50" stroke="#231f20" stroke-width="1.0"/>
<line x1="373.98" y1="335.70" x2="373.98" y2="337.50" stroke="#231f20" stroke-width="1.0"/>
<line x1="380.10" y1="335.70" x2="380.10" y2="337.50" stroke="#231f20" stroke-width="1.0"/>
<line x1="384.85" y1="335.70" x2="384.85" y2="337.50" stroke="#231f20" stroke-width="1.0"/>
<line x1="388.73" y1="335.70" x2="388.73" y2="337.50" stroke="#231f20" stroke-width="1.0"/>
<line x1="392.01" y1="335.70" x2="392.01" y2="337.50" stroke="#231f20" stroke-width="1.0"/>
<line x1="394.85" y1="335.70" x2="394.85" y2="337.50" stroke="#231f20" stroke-width="1.0"/>
<line x1="397.36" y1="335.70" x2="397.36" y2="337.50" stroke="#231f20" stroke-width="1.0"/>
<line x1="399.60" y1="335.70" x2="399.60" y2="339.10" stroke="#231f20" stroke-width="1.0"/>
<text x="252.60" y="349.50" font-size="8.4" text-anchor="middle" fill="#231f20" textLength="16.82" lengthAdjust="spacingAndGlyphs" >1000</text>
<text x="301.60" y="349.50" font-size="8.4" text-anchor="middle" fill="#231f20" textLength="21.02" lengthAdjust="spacingAndGlyphs" >10000</text>
<text x="350.60" y="349.50" font-size="8.4" text-anchor="middle" fill="#231f20" textLength="25.23" lengthAdjust="spacingAndGlyphs" >100000</text>
<text x="399.60" y="349.50" font-size="8.4" text-anchor="middle" fill="#231f20" textLength="29.43" lengthAdjust="spacingAndGlyphs" >1000000</text>
<text x="326.60" y="363.90" font-size="10" text-anchor="middle" fill="#231f20" textLength="72.6" lengthAdjust="spacingAndGlyphs" >Cell number/well</text>
<text x="225.40" y="285.80" font-size="10.2" text-anchor="middle" fill="#231f20" textLength="158.3" lengthAdjust="spacingAndGlyphs" transform="rotate(-90 225.40 285.80)" >Rate of substrate cleavage (AFU/min)</text>
<path d="M308.90,335.60 L309.91,335.33 L310.92,335.05 L311.92,334.75 L312.93,334.44 L313.94,334.12 L314.95,333.78 L315.96,333.43 L316.97,333.06 L317.97,332.67 L318.98,332.27 L319.99,331.85 L321.00,331.41 L322.01,330.95 L323.02,330.47 L324.02,329.97 L325.03,329.44 L326.04,328.89 L327.05,328.32 L328.06,327.72 L329.07,327.10 L330.07,326.44 L331.08,325.76 L332.09,325.04 L333.10,324.29 L334.11,323.51 L335.12,322.69 L336.12,321.84 L337.13,320.95 L338.14,320.02 L339.15,319.04 L340.16,318.02 L341.17,316.96 L342.17,315.85 L343.18,314.68 L344.19,313.47 L345.20,312.20 L346.21,310.87 L347.22,309.48 L348.22,308.03 L349.23,306.51 L350.24,304.93 L351.25,303.27 L352.26,301.54 L353.27,299.73 L354.27,297.84 L355.28,295.87 L356.29,293.80 L357.30,291.64 L358.31,289.39 L359.32,287.03 L360.32,284.56 L361.33,281.99 L362.34,279.29 L363.35,276.48 L364.36,273.54 L365.37,270.46 L366.38,267.25 L367.38,263.89 L368.39,260.38 L369.40,256.71" stroke="#4d6283" stroke-width="1.6" fill="none" stroke-linecap="round" />
<path d="M295.4,334.2 L310,334.1 L325,334.0 L340,333.9 L355,333.7 L369.6,333.3" stroke="#9f3545" stroke-width="1.7" fill="none" stroke-linecap="round" />
<line x1="369.40" y1="245.90" x2="369.40" y2="260.90" stroke="#4d6283" stroke-width="0.9"/>
<line x1="368.00" y1="245.90" x2="370.80" y2="245.90" stroke="#4d6283" stroke-width="0.9"/>
<line x1="368.00" y1="260.90" x2="370.80" y2="260.90" stroke="#4d6283" stroke-width="0.9"/>
<line x1="354.20" y1="297.50" x2="354.20" y2="305.50" stroke="#4d6283" stroke-width="0.9"/>
<line x1="352.80" y1="297.50" x2="355.60" y2="297.50" stroke="#4d6283" stroke-width="0.9"/>
<line x1="352.80" y1="305.50" x2="355.60" y2="305.50" stroke="#4d6283" stroke-width="0.9"/>
<circle cx="339.9" cy="324.2" r="1.1" fill="#4d6283"/>
<line x1="324.80" y1="331.40" x2="324.80" y2="333.40" stroke="#4d6283" stroke-width="0.9"/>
<line x1="323.60" y1="331.40" x2="326.00" y2="331.40" stroke="#4d6283" stroke-width="0.9"/>
<line x1="295.60" y1="332.00" x2="295.60" y2="334.00" stroke="#9f3545" stroke-width="0.9"/>
<line x1="294.50" y1="332.00" x2="296.70" y2="332.00" stroke="#9f3545" stroke-width="0.9"/>
<line x1="310.40" y1="332.30" x2="310.40" y2="334.00" stroke="#9f3545" stroke-width="0.9"/>
<line x1="309.30" y1="332.30" x2="311.50" y2="332.30" stroke="#9f3545" stroke-width="0.9"/>
<line x1="325.10" y1="332.60" x2="325.10" y2="334.00" stroke="#9f3545" stroke-width="0.9"/>
<line x1="324.00" y1="332.60" x2="326.20" y2="332.60" stroke="#9f3545" stroke-width="0.9"/>
<line x1="339.90" y1="332.50" x2="339.90" y2="334.00" stroke="#9f3545" stroke-width="0.9"/>
<line x1="338.80" y1="332.50" x2="341.00" y2="332.50" stroke="#9f3545" stroke-width="0.9"/>
<line x1="354.60" y1="332.30" x2="354.60" y2="334.00" stroke="#9f3545" stroke-width="0.9"/>
<line x1="353.50" y1="332.30" x2="355.70" y2="332.30" stroke="#9f3545" stroke-width="0.9"/>
<line x1="369.40" y1="331.60" x2="369.40" y2="334.00" stroke="#9f3545" stroke-width="0.9"/>
<line x1="368.30" y1="331.60" x2="370.50" y2="331.60" stroke="#9f3545" stroke-width="0.9"/>
<line x1="386.80" y1="314.00" x2="399.00" y2="314.00" stroke="#4d6283" stroke-width="1.6"/>
<text x="402.60" y="316.10" font-size="7.4" text-anchor="start" fill="#231f20" textLength="12.4" lengthAdjust="spacingAndGlyphs" >Plm</text>
<line x1="386.80" y1="324.40" x2="399.00" y2="324.40" stroke="#9f3545" stroke-width="1.6"/>
<text x="402.60" y="326.70" font-size="7.4" text-anchor="start" fill="#231f20" textLength="12.4" lengthAdjust="spacingAndGlyphs" >uPA</text>
<rect x="0.00" y="0.00" width="520.00" height="1.50" fill="#484848"/>
<rect x="0.00" y="387.40" width="520.00" height="1.60" fill="#484848"/>
<rect x="0.00" y="0.00" width="1.30" height="389.00" fill="#000"/>
<rect x="518.50" y="0.00" width="1.50" height="389.00" fill="#000"/>
</svg>
</body></html>
